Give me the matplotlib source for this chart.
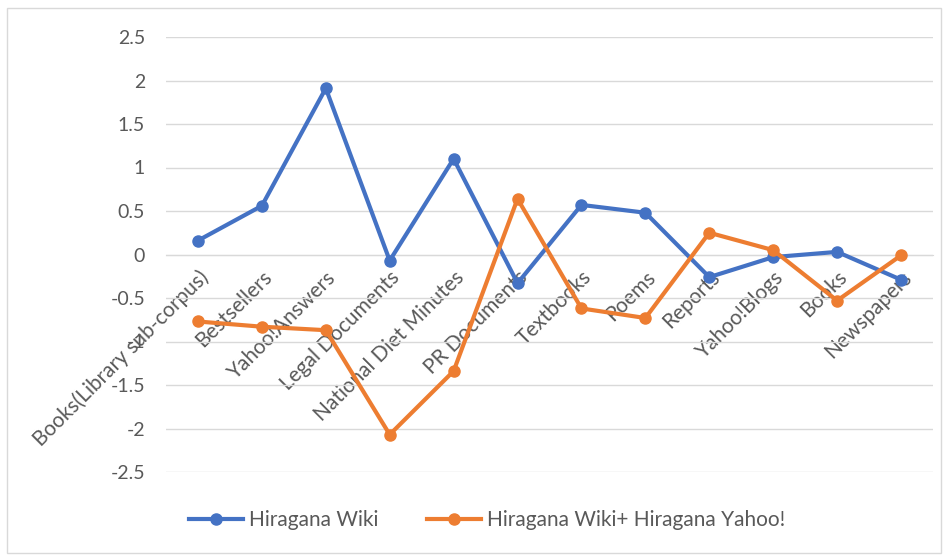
import matplotlib
matplotlib.use("Agg")
import matplotlib.pyplot as plt
from matplotlib.patches import Rectangle

categories = ["Books(Library sub-corpus)", "Bestsellers", "Yahoo!Answers", "Legal Documents",
              "National Diet Minutes", "PR Documents", "Textbooks", "Poems", "Reports",
              "Yahoo!Blogs", "Books", "Newspapers"]
wiki = [0.16, 0.56, 1.91, -0.07, 1.10, -0.33, 0.57, 0.48, -0.26, -0.03, 0.03, -0.29]
wiki_yahoo = [-0.77, -0.83, -0.87, -2.07, -1.34, 0.64, -0.62, -0.73, 0.25, 0.05, -0.53, -0.01]
yticks = [2.5, 2, 1.5, 1, 0.5, 0, -0.5, -1, -1.5, -2, -2.5]
ytick_labels = ["2.5", "2", "1.5", "1", "0.5", "0", "-0.5", "-1", "-1.5", "-2", "-2.5"]

plt.rcParams['font.family'] = ['Lato', 'DejaVu Sans']
W, H = 948, 557
fig = plt.figure(figsize=(W/100, H/100), dpi=100)
fig.patches.append(Rectangle((7/W, 1-553/H), (941-7)/W, (553-8)/H, transform=fig.transFigure,
                             fill=False, edgecolor='#D9D9D9', linewidth=1))
ax = fig.add_axes([166/W, 1-472/H, (933-166)/W, (472-37)/H])
x = list(range(len(categories)))
ax.plot(x, wiki, color='#4472C4', linewidth=3, marker='o', markersize=8, label='Hiragana Wiki', zorder=3)
ax.plot(x, wiki_yahoo, color='#ED7D31', linewidth=3, marker='o', markersize=8,
        label='Hiragana Wiki+ Hiragana Yahoo!', zorder=3)
ax.set_xlim(-0.5, len(categories)-0.5)
ax.set_ylim(-2.5, 2.5)
ax.set_yticks(yticks)
ax.set_yticklabels(ytick_labels)
ax.yaxis.grid(True, color='#D9D9D9', linewidth=1)
ax.set_axisbelow(True)
for s in ['top', 'right', 'left']:
    ax.spines[s].set_visible(False)
ax.spines['bottom'].set_position(('data', 0))
ax.spines['bottom'].set_color('#D9D9D9')
ax.set_xticks(x)
ax.set_xticklabels(categories, rotation=45, ha='right', rotation_mode='anchor')
ax.tick_params(axis='x', length=0, pad=9, labelsize=15, labelcolor='#595959')
ax.tick_params(axis='y', length=0, pad=15, labelsize=14, labelcolor='#595959')
for t in ax.get_xticklabels():
    t.set_zorder(2)
fig.legend(loc='center', bbox_to_anchor=(487/W, 1-520/H), ncol=2, frameon=False,
           fontsize=15, handlelength=2.6, handletextpad=0.3, columnspacing=2.3, labelcolor='#595959')
fig.savefig('out.png', dpi=100)
